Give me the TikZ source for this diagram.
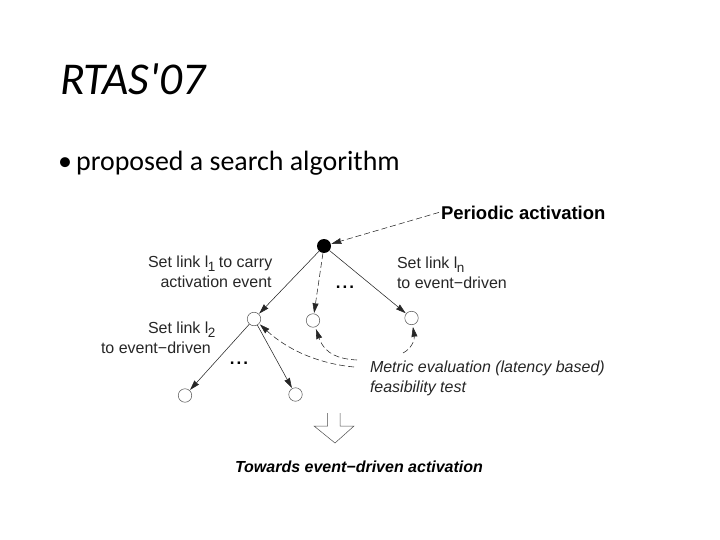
\documentclass[tikz,border=0pt]{standalone}
\usepackage{fontspec}
\setmainfont{Liberation Sans}
\newfontfamily\slidefont{Carlito}
\usetikzlibrary{arrows.meta}
\newcommand{\fs}[1]{\fontsize{#1}{#1}\selectfont}
\newcommand{\lowsub}[1]{\hspace{-0.5pt}\raisebox{-4.5pt}{\fs{13.5}#1}\hspace{-1pt}}
\newcommand{\spreaddots}{.\hspace{2pt}.\hspace{2pt}.}
\tikzset{
  x=1pt,y=-1pt,
  lab/.style={anchor=base west,inner sep=0pt,outer sep=0pt,font=\fs{16},text=black!85},
  state/.style={circle,draw=black!65,line width=0.5pt,minimum size=13.5pt,inner sep=0pt,fill=white},
  rootstate/.style={circle,fill=black,minimum size=14pt,inner sep=0pt},
  tip/.style={-{Stealth[length=10pt,width=6pt,inset=0.5pt]}},
  link/.style={tip,draw=black!85,line width=0.55pt,shorten >=0.5pt},
  dlink/.style={link,dash pattern=on 6pt off 3pt},
  dots/.style={inner sep=0pt,font=\fs{17}\bfseries}
}
\begin{document}
\begin{tikzpicture}
\useasboundingbox (0,0) rectangle (720,540);
\node[anchor=base west,inner sep=0pt,font=\slidefont\fs{45.5}\itshape] (title) at (60,95) {RTAS'07};
\node[anchor=base west,inner sep=0pt,font=\slidefont\fs{28}] (bullet) at (58,171) {•};
\node[anchor=base west,inner sep=0pt,font=\slidefont\fs{27.9}] (body) at (76,171) {proposed a search algorithm};

\node[rootstate] (root) at (324,246) {};
\node[state] (a) at (254,319) {};
\node[state] (b) at (313,320.5) {};
\node[state] (c) at (411.5,318) {};
\node[state] (d) at (185,395.5) {};
\node[state] (e) at (295.5,394.5) {};

\node[lab,font=\fs{18.5}\bfseries,text=black] (periodic) at (441,219) {Periodic activation};
\node[lab] (l1a) at (148,267) {Set link l\lowsub{1} to carry};
\node[lab] (l1b) at (160.5,287) {activation event};
\node[lab] (l2a) at (148,333) {Set link l\lowsub{2}};
\node[lab] (l2b) at (101,353) {to event−driven};
\node[lab] (lna) at (397,268) {Set link l\lowsub{n}};
\node[lab] (lnb) at (397,288) {to event−driven};
\node[lab,font=\fs{16}\itshape] (metric) at (370,372) {Metric evaluation (latency based)};
\node[lab,font=\fs{16}\itshape] (feas) at (370,392) {feasibility test};
\node[lab,font=\fs{16}\bfseries\itshape,text=black] (towards) at (235,472) {Towards event−driven activation};
\node[dots] (dots1) at (345,287) {\spreaddots};
\node[dots] (dots2) at (239,363) {\spreaddots};

\draw[dlink] (periodic.west) ++(-2,0) -- (root);
\draw[link,shorten <=0pt] (root) -- (a);
\draw[dlink] (root) -- (b);
\draw[link] (root) -- (c);
\draw[link] (a) -- (d);
\draw[link] (a) -- (e);

\coordinate (m1) at (354,367);
\coordinate (m2) at (357,360);
\coordinate (m3) at (403,353);
\draw[dlink,shorten >=1pt] (m1) .. controls (322,364) and (290,352) .. (a);
\draw[dlink,shorten >=2pt] (m2) .. controls (340,359) and (325,355) .. (b);
\draw[dlink,shorten >=2pt] (m3) .. controls (411,349) and (415,340) .. (c);

\draw[black!70,line width=0.5pt] (327.5,413) -- (327.5,426) -- (314,426) -- (335,443) -- (354,426) -- (340,426) -- (340,413);
\end{tikzpicture}
\end{document}
